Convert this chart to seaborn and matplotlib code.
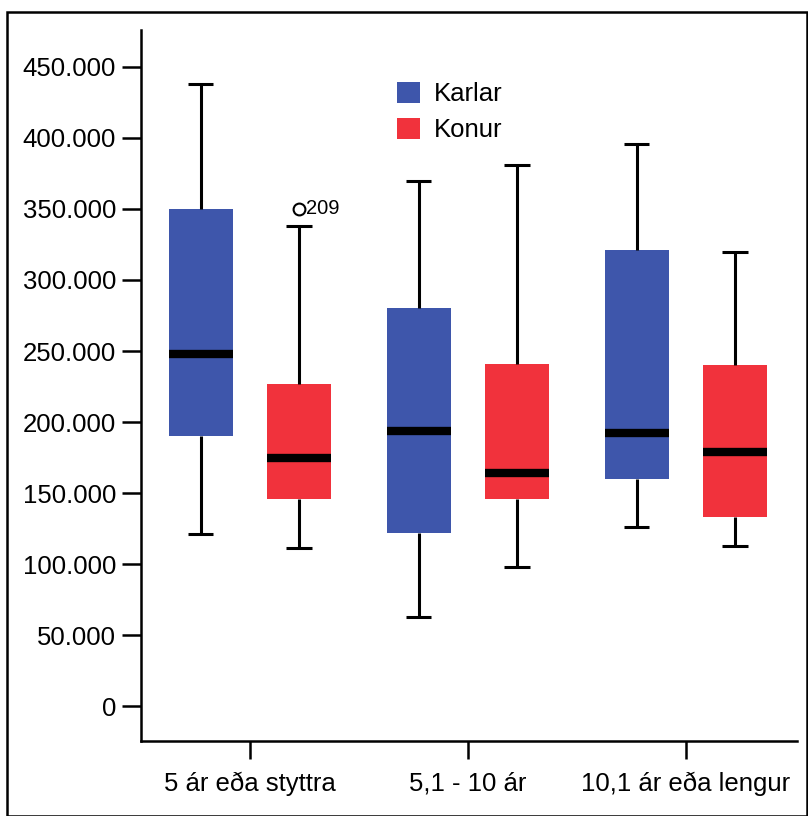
import numpy as np
import pandas as pd
import matplotlib
matplotlib.use("Agg")
import matplotlib.pyplot as plt
import seaborn as sns
from matplotlib.patches import Rectangle

# ---- data (values in krónur) ----
groups = ["5 ár eða styttra", "5,1 - 10 ár", "10,1 ár eða lengur"]
sexes = ["Karlar", "Konur"]
# per (group, sex): lower whisker, Q1, median, Q3, upper whisker
karlar_lo  = [121000, 63000, 126000]
karlar_q1  = [190000, 122000, 160000]
karlar_med = [248000, 194000, 192000]
karlar_q3  = [350000, 280000, 321000]
karlar_hi  = [438000, 370000, 396000]
konur_lo   = [111000, 98000, 113000]
konur_q1   = [146000, 146000, 133000]
konur_med  = [175000, 164000, 179000]
konur_q3   = [227000, 241000, 240000]
konur_hi   = [338000, 381000, 320000]
# outliers: (group index, sex, value, case label)
outlier_group = [0]
outlier_sex = ["Konur"]
outlier_value = [350000]
outlier_label = ["209"]

colors = {"Karlar": "#3E56AB", "Konur": "#F1323C"}

# build point sets whose quartiles reproduce the summary statistics
rows = []
stats = {"Karlar": (karlar_lo, karlar_q1, karlar_med, karlar_q3, karlar_hi),
         "Konur": (konur_lo, konur_q1, konur_med, konur_q3, konur_hi)}
for sex in sexes:
    lo, q1, med, q3, hi = stats[sex]
    for gi, g in enumerate(groups):
        outs = [v for og, os_, v in zip(outlier_group, outlier_sex, outlier_value)
                if og == gi and os_ == sex]
        if outs:
            vals = [lo[gi], q1[gi], q1[gi], med[gi], med[gi], q3[gi], q3[gi], hi[gi]] + outs
        else:
            vals = [lo[gi], q1[gi], q1[gi], med[gi], med[gi], med[gi], q3[gi], q3[gi], hi[gi]]
        for v in vals:
            rows.append({"group": g, "sex": sex, "value": v})
df = pd.DataFrame(rows)

plt.rcParams["font.family"] = ["Liberation Sans", "DejaVu Sans"]

fig = plt.figure(figsize=(8.08, 8.16), dpi=100)
ax = fig.add_axes([0.1745, 0.0919, 0.812, 0.8713])

sns.boxplot(data=df, x="group", y="value", hue="sex", order=groups,
            hue_order=sexes, palette=colors, width=0.9, gap=0.35, whis=1.5,
            saturation=1, linecolor="black", linewidth=2.2, ax=ax,
            boxprops=dict(linewidth=0),
            medianprops=dict(color="black", linewidth=6, solid_capstyle="butt"),
            capprops=dict(solid_capstyle="butt"),
            flierprops=dict(marker="o", markerfacecolor="none",
                            markeredgecolor="black", markersize=8.5,
                            markeredgewidth=1.5),
            capwidths=0.115,
            legend=False)

# label the outlier with its case number
offsets = {"Karlar": -0.225, "Konur": 0.225}
for og, os_, v, lab in zip(outlier_group, outlier_sex, outlier_value, outlier_label):
    ax.annotate(lab, (og + offsets[os_], v), xytext=(5, 0),
                textcoords="offset points", va="center", ha="left", fontsize=14.5)

ax.set_ylim(-24600, 476000)
ax.set_xlim(-0.5, 2.51)
yt = np.arange(0, 450001, 50000)
ax.set_yticks(yt)
ax.set_yticklabels(["0"] + [f"{int(t/1000)}.000" for t in yt[1:]])
ax.set_xlabel("")
ax.set_ylabel("")
for s in ["top", "right"]:
    ax.spines[s].set_visible(False)
for s in ["left", "bottom"]:
    ax.spines[s].set_linewidth(1.8)
ax.tick_params(axis="both", labelsize=18.5, width=1.8, length=14, direction="out",
               pad=4)
ax.tick_params(axis="x", length=13, pad=9)

handles = [Rectangle((0, 0), 1, 1, facecolor=colors[s], edgecolor="none") for s in sexes]
ax.legend(handles, sexes, loc="upper left", bbox_to_anchor=(0.355, 0.96),
          frameon=False, fontsize=18.5, handlelength=0.9, handleheight=0.9,
          handletextpad=0.55, labelspacing=0.45)

# outer frame
fig.patches.append(Rectangle((0.0087, 0.0), 0.99, 0.985, transform=fig.transFigure,
                             fill=False, edgecolor="black", linewidth=1.8))

fig.savefig("out.png", dpi=100)
